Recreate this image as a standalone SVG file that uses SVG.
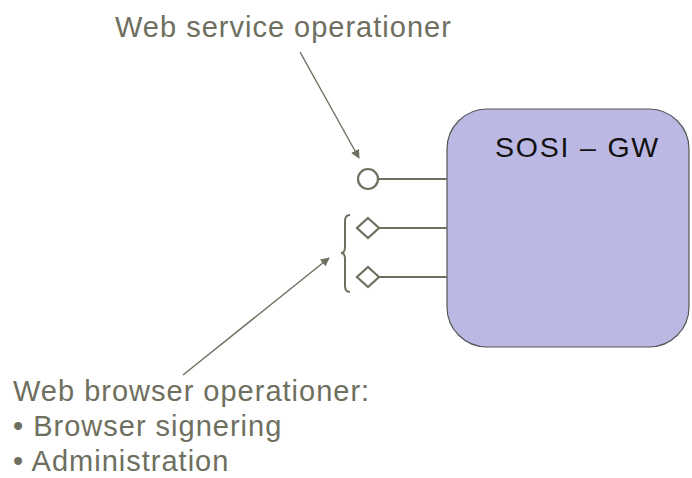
<svg xmlns="http://www.w3.org/2000/svg" width="692" height="478" viewBox="0 0 692 478">
  <style>
    .lbl { font-family: "Liberation Sans", Arial, sans-serif; font-size: 29px; fill: #6E6F5E; letter-spacing: 1px; }
    .title { font-family: "Liberation Sans", Arial, sans-serif; font-size: 28.5px; fill: #111111; letter-spacing: 1.8px; }
    .ln { stroke: #6E6F5E; stroke-width: 2; fill: none; }
    .sym { stroke: #6E6F5E; stroke-width: 2.2; fill: #FFFFFF; }
    .ptr { stroke: #6E6F5E; stroke-width: 1.4; fill: none; }
  </style>
  <defs>
    <marker id="head" viewBox="0 0 10 10" refX="9" refY="5" markerWidth="9" markerHeight="9" markerUnits="userSpaceOnUse" orient="auto">
      <path d="M0,0 L10,5 L0,10 z" fill="#6E6F5E"/>
    </marker>
  </defs>
  <rect width="692" height="478" fill="#FFFFFF"/>

  <g id="gateway">
    <rect x="447" y="109" width="242" height="238" rx="40" ry="40" fill="#BBB9E3" stroke="#555555" stroke-width="1.2"/>
    <text class="title" x="495" y="157">SOSI – GW</text>
  </g>

  <g id="connectors">
    <line class="ln" x1="378" y1="179" x2="447" y2="179"/>
    <line class="ln" x1="379" y1="228" x2="447" y2="228"/>
    <line class="ln" x1="379" y1="277" x2="447" y2="277"/>
    <line class="ptr" x1="300" y1="52" x2="359" y2="158" marker-end="url(#head)"/>
    <line class="ptr" x1="183" y1="375" x2="329" y2="258" marker-end="url(#head)"/>
  </g>

  <g id="ws-port">
    <circle class="sym" cx="368" cy="179" r="10"/>
  </g>

  <g id="browser-ports">
    <path class="sym" d="M368,218 L379,228 L368,238 L357,228 Z"/>
    <path class="sym" d="M368,267 L379,277 L368,287 L357,277 Z"/>
    <path class="ln" d="M350,215 Q345,215 345,221 L345,247 Q345,253 341,253 Q345,253 345,259 L345,286 Q345,292 350,292"/>
  </g>

  <g id="ws-label">
    <text class="lbl" x="115" y="37">Web service operationer</text>
  </g>

  <g id="browser-label">
    <text class="lbl" x="13" y="401">Web browser operationer:</text>
    <text class="lbl" x="13" y="436">• Browser signering</text>
    <text class="lbl" x="13" y="471">• Administration</text>
  </g>
</svg>
